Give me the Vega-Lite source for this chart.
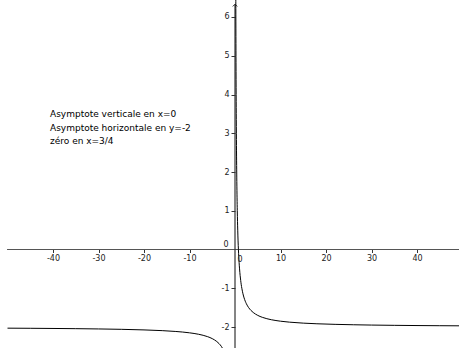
{
  "$schema": "https://vega.github.io/schema/vega-lite/v6.json",
  "width": 459,
  "height": 348,
  "padding": 0,
  "autosize": {"type": "none"},
  "background": "white",
  "config": {
    "view": {"stroke": null},
    "font": "DejaVu Sans",
    "axis": {"grid": false, "domain": false, "labelFont": "DejaVu Sans", "labelFontSize": 8, "labelColor": "#222", "tickColor": "#333", "title": null, "labelExpr": "toString(datum.value)"}
  },
  "layer": [
    {
      "data": {"values": [
        {"x": -50.1, "x2": 49.4, "y": 0}
      ]},
      "mark": {"type": "rule", "color": "#555", "strokeWidth": 1},
      "encoding": {
        "x": {"field": "x", "type": "quantitative",
              "scale": {"domain": [-51.65, 49.23], "nice": false, "zero": false},
              "axis": {"orient": "bottom", "offset": -98.5, "values": [-40, -30, -20, -10, 10, 20, 30, 40], "tickSize": 3, "labelPadding": 2}},
        "x2": {"field": "x2"},
        "y": {"field": "y", "type": "quantitative",
              "scale": {"domain": [-2.5419, 6.4387], "nice": false, "zero": false},
              "axis": {"orient": "left", "offset": -235, "values": [-2, -1, 1, 2, 3, 4, 5, 6], "tickSize": 4, "labelPadding": 2}}
      }
    },
    {
      "data": {"values": [
        {"x": 0, "y": -2.6, "y2": 6.33}
      ]},
      "mark": {"type": "rule", "color": "#333", "strokeWidth": 1.2},
      "encoding": {
        "x": {"field": "x", "type": "quantitative"},
        "y": {"field": "y", "type": "quantitative"},
        "y2": {"field": "y2"}
      }
    },
    {
      "data": {"values": [{"x": 0, "y": 6.33}]},
      "mark": {"type": "point", "shape": "M-1,1L0,0L1,1", "size": 20, "filled": false, "stroke": "#333", "strokeWidth": 1, "opacity": 1},
      "encoding": {
        "x": {"field": "x", "type": "quantitative"},
        "y": {"field": "y", "type": "quantitative"}
      }
    },
    {
      "data": {"values": [
        {"b": "L", "x": -50, "y": -2.03},
        {"b": "L", "x": -45, "y": -2.0333},
        {"b": "L", "x": -40, "y": -2.0375},
        {"b": "L", "x": -35, "y": -2.0429},
        {"b": "L", "x": -30, "y": -2.05},
        {"b": "L", "x": -25, "y": -2.06},
        {"b": "L", "x": -20, "y": -2.075},
        {"b": "L", "x": -16, "y": -2.0938},
        {"b": "L", "x": -13, "y": -2.1154},
        {"b": "L", "x": -10, "y": -2.15},
        {"b": "L", "x": -8, "y": -2.1875},
        {"b": "L", "x": -7, "y": -2.2143},
        {"b": "L", "x": -6, "y": -2.25},
        {"b": "L", "x": -5, "y": -2.3},
        {"b": "L", "x": -4.5, "y": -2.3333},
        {"b": "L", "x": -4, "y": -2.375},
        {"b": "L", "x": -3.5, "y": -2.4286},
        {"b": "L", "x": -3, "y": -2.5},
        {"b": "L", "x": -2.6, "y": -2.5769},
        {"b": "R", "x": 0.175, "y": 6.5714},
        {"b": "R", "x": 0.19, "y": 5.8947},
        {"b": "R", "x": 0.2, "y": 5.5},
        {"b": "R", "x": 0.22, "y": 4.8182},
        {"b": "R", "x": 0.25, "y": 4.0},
        {"b": "R", "x": 0.28, "y": 3.3571},
        {"b": "R", "x": 0.32, "y": 2.6875},
        {"b": "R", "x": 0.36, "y": 2.1667},
        {"b": "R", "x": 0.4, "y": 1.75},
        {"b": "R", "x": 0.45, "y": 1.3333},
        {"b": "R", "x": 0.5, "y": 1.0},
        {"b": "R", "x": 0.6, "y": 0.5},
        {"b": "R", "x": 0.75, "y": 0.0},
        {"b": "R", "x": 0.9, "y": -0.3333},
        {"b": "R", "x": 1.0, "y": -0.5},
        {"b": "R", "x": 1.25, "y": -0.8},
        {"b": "R", "x": 1.5, "y": -1.0},
        {"b": "R", "x": 1.75, "y": -1.1429},
        {"b": "R", "x": 2.0, "y": -1.25},
        {"b": "R", "x": 2.5, "y": -1.4},
        {"b": "R", "x": 3.0, "y": -1.5},
        {"b": "R", "x": 3.5, "y": -1.5714},
        {"b": "R", "x": 4.0, "y": -1.625},
        {"b": "R", "x": 5.0, "y": -1.7},
        {"b": "R", "x": 6.0, "y": -1.75},
        {"b": "R", "x": 7.0, "y": -1.7857},
        {"b": "R", "x": 8.0, "y": -1.8125},
        {"b": "R", "x": 10.0, "y": -1.85},
        {"b": "R", "x": 12.0, "y": -1.875},
        {"b": "R", "x": 15.0, "y": -1.9},
        {"b": "R", "x": 18.0, "y": -1.9167},
        {"b": "R", "x": 22.0, "y": -1.9318},
        {"b": "R", "x": 26.0, "y": -1.9423},
        {"b": "R", "x": 30.0, "y": -1.95},
        {"b": "R", "x": 35.0, "y": -1.9571},
        {"b": "R", "x": 40.0, "y": -1.9625},
        {"b": "R", "x": 45.0, "y": -1.9667},
        {"b": "R", "x": 49.5, "y": -1.9697}
      ]},
      "mark": {"type": "line", "color": "black", "strokeWidth": 1, "clip": true, "interpolate": "monotone"},
      "encoding": {
        "x": {"field": "x", "type": "quantitative"},
        "y": {"field": "y", "type": "quantitative"},
        "detail": {"field": "b"}
      }
    },
    {
      "data": {"values": [{"x": 0, "y": 0}]},
      "mark": {"type": "text", "text": "0", "fontSize": 8, "color": "#222", "dx": -9, "dy": -5},
      "encoding": {
        "x": {"field": "x", "type": "quantitative"},
        "y": {"field": "y", "type": "quantitative"}
      }
    },
    {
      "data": {"values": [{"x": 0, "y": 0}]},
      "mark": {"type": "text", "text": "0", "fontSize": 8, "color": "#222", "dx": 5, "dy": 10},
      "encoding": {
        "x": {"field": "x", "type": "quantitative"},
        "y": {"field": "y", "type": "quantitative"}
      }
    },
    {
      "data": {"values": [{"x": -40.66, "y": 3.41}]},
      "mark": {"type": "text", "align": "left", "baseline": "alphabetic", "fontSize": 9, "lineHeight": 13.5, "color": "black",
               "text": ["Asymptote verticale en x=0", "Asymptote horizontale en y=-2", "zéro en x=3/4"]},
      "encoding": {
        "x": {"field": "x", "type": "quantitative"},
        "y": {"field": "y", "type": "quantitative"}
      }
    }
  ]
}
